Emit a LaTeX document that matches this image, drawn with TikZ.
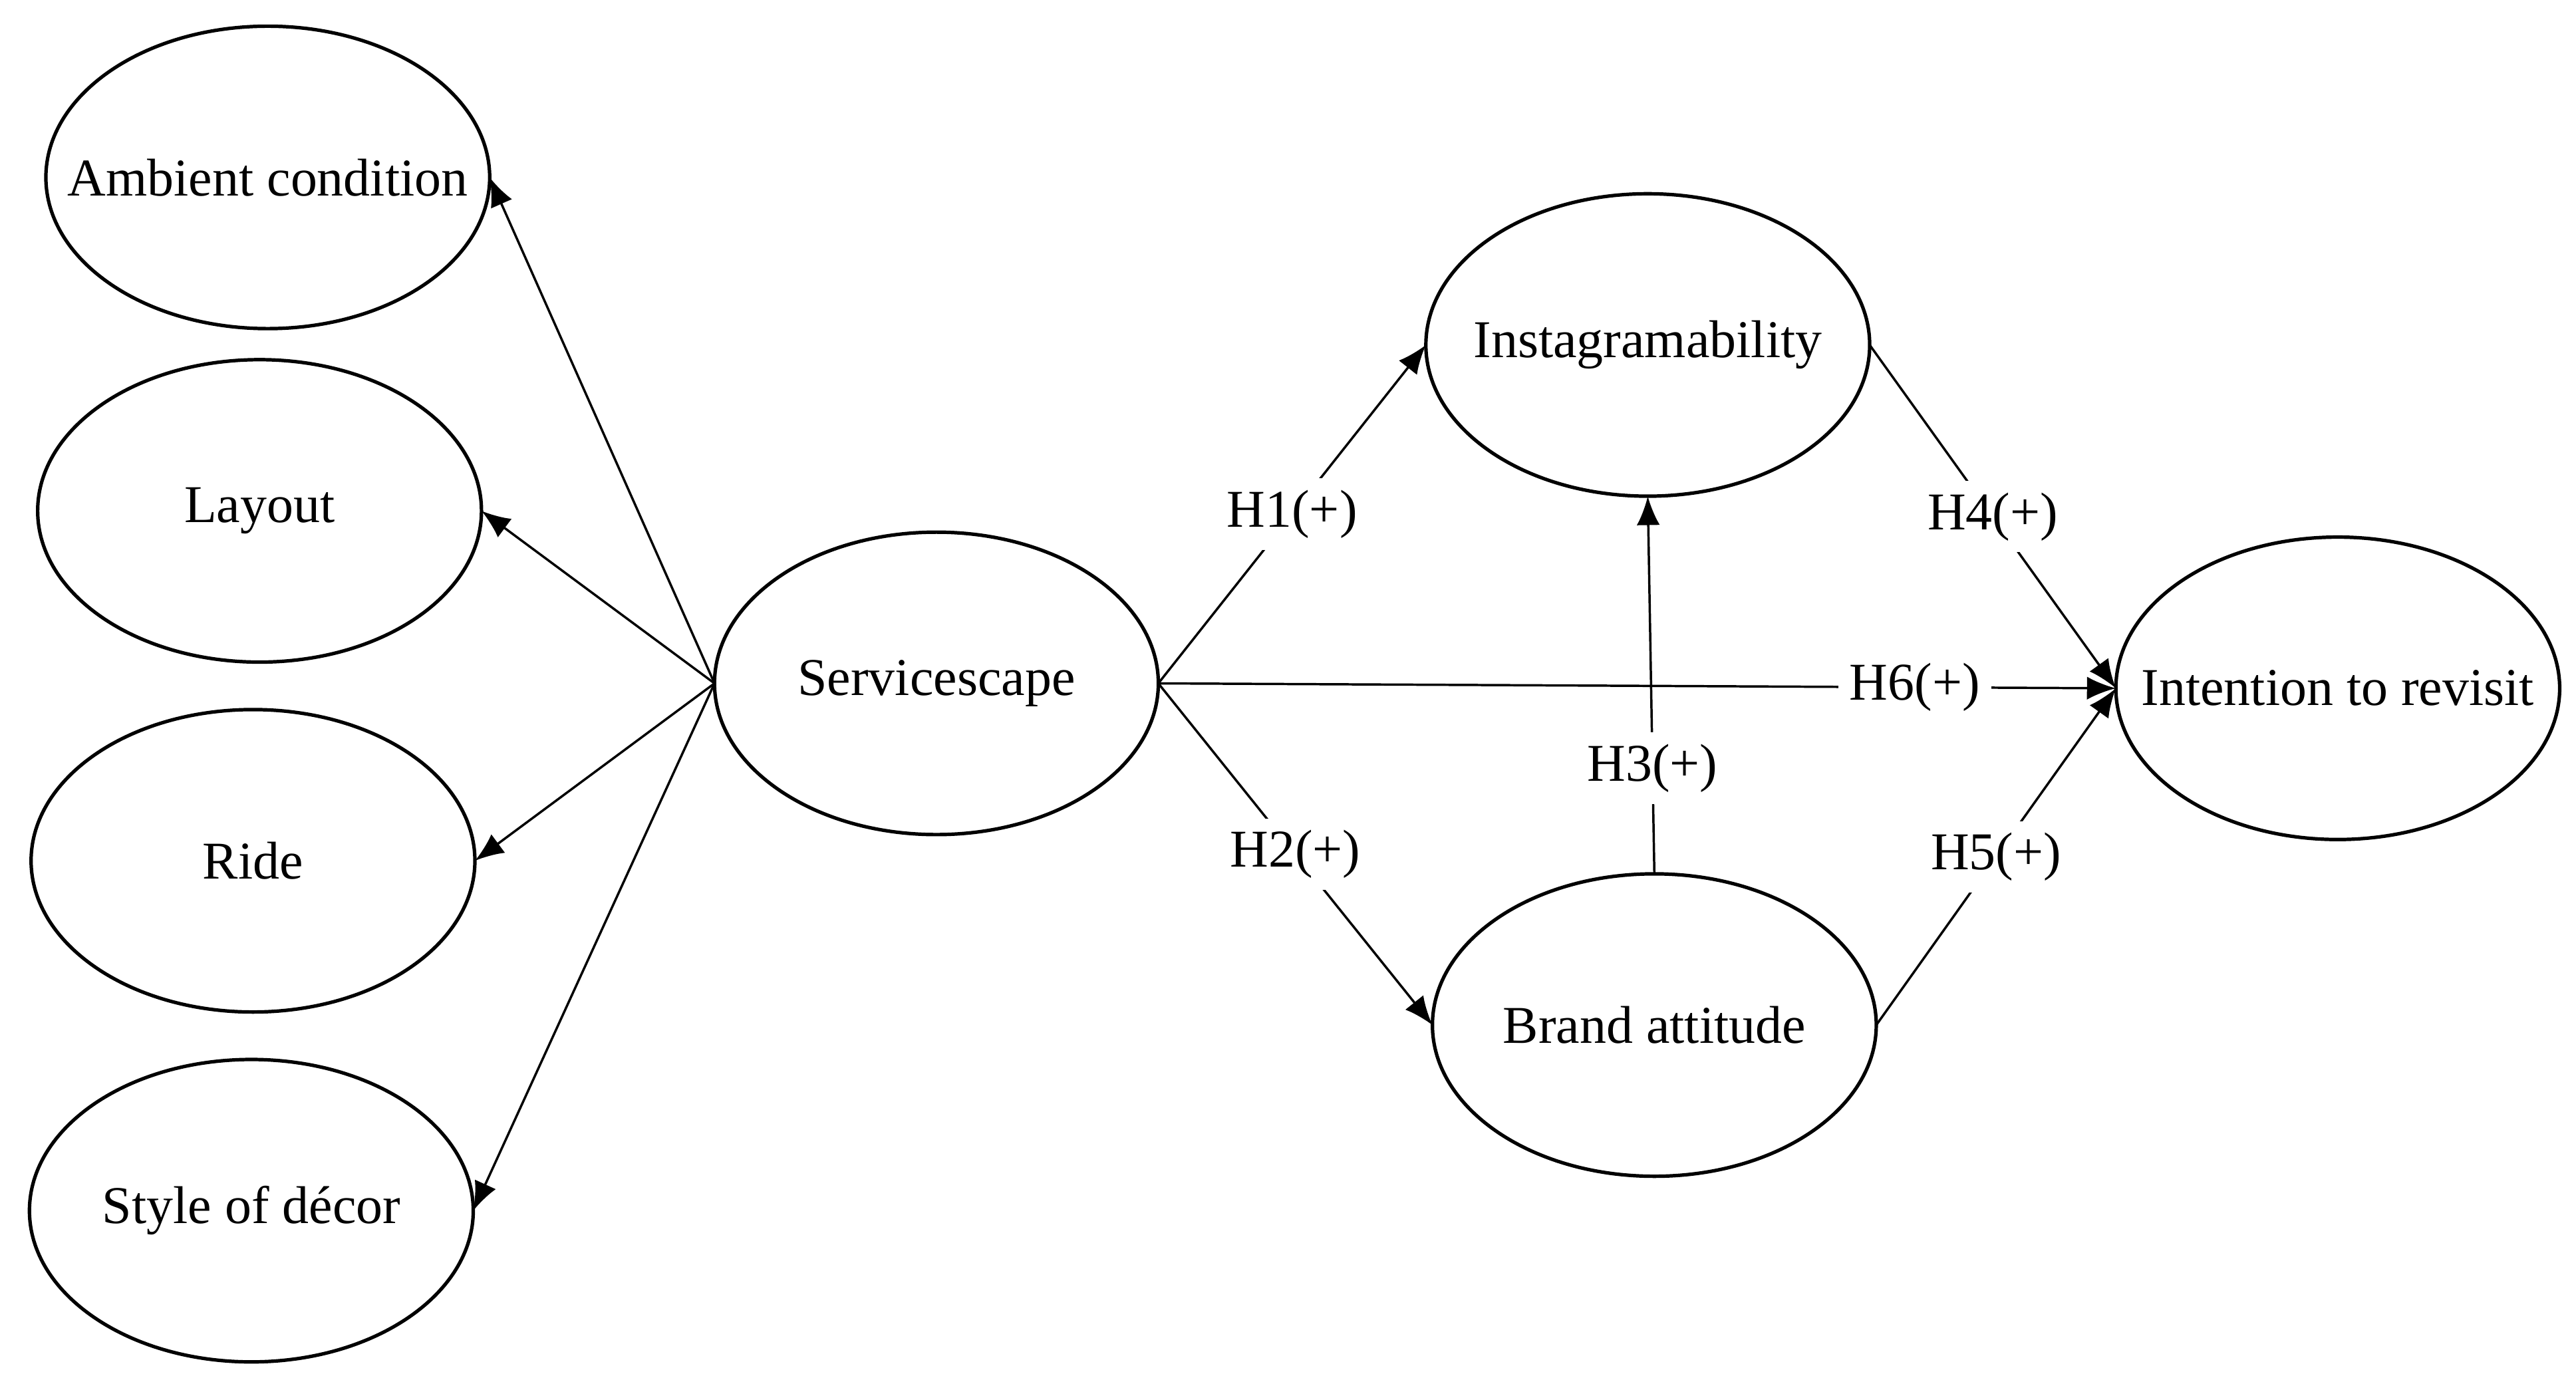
\documentclass[tikz,border=0pt]{standalone}
\usepackage{fontspec}
\setmainfont{Liberation Serif}
\usetikzlibrary{shapes.geometric,arrows.meta}
\begin{document}
\begin{tikzpicture}[x=0.01cm,y=-0.01cm,
 ell/.style={draw,ellipse,line width=0.6pt,minimum width=2.7cm,minimum height=1.84cm,inner sep=0pt,outer sep=0pt},
 txt/.style={inner sep=0pt,font=\fontsize{9.2}{11}\selectfont},
 lab/.style={fill=white,inner sep=2pt,font=\fontsize{9.2}{11}\selectfont},
 arr/.style={-{Latex[length=5pt,width=4pt]},line width=0.4pt}]
\useasboundingbox (0,0) rectangle (1568,846);
\node[ell] (amb) at (163,108) {};
\node[ell] (lay) at (158,311) {};
\node[ell] (ride) at (154,524) {};
\node[ell] (sty) at (153,737) {};
\node[ell] (ser) at (570,416) {};
\node[ell] (ins) at (1003,210) {};
\node[ell] (bra) at (1007,624) {};
\node[ell] (int) at (1423,419) {};
\node[txt] (tamb) at (amb) {Ambient condition};
\node[txt] (tlay) at (lay) {Layout};
\node[txt] (tride) at (ride) {Ride};
\node[txt] (tsty) at (sty) {Style of décor};
\node[txt] (tser) at (ser) {Servicescape};
\node[txt] (tins) at (ins) {Instagramability};
\node[txt] (tbra) at (bra) {Brand attitude};
\node[txt] (tint) at (int) {Intention to revisit};
\coordinate (sl) at (ser.west);
\draw[arr] (sl) -- (amb.east);
\draw[arr] (sl) -- (lay.east);
\draw[arr] (sl) -- (ride.east);
\draw[arr] (sl) -- (sty.east);
\draw[arr] (ser.east) -- node[lab]{H1(+)} (ins.west);
\draw[arr] (ser.east) -- node[lab]{H2(+)} (bra.west);
\draw[arr] (bra.north) -- node[lab,pos=0.28]{H3(+)} (ins.south);
\draw[arr] (ins.east) -- node[lab]{H4(+)} (int.west);
\draw[arr] (bra.east) -- node[lab]{H5(+)} (int.west);
\draw[arr] (ser.east) -- node[lab,pos=0.79]{H6(+)} (int.west);
\end{tikzpicture}
\end{document}
